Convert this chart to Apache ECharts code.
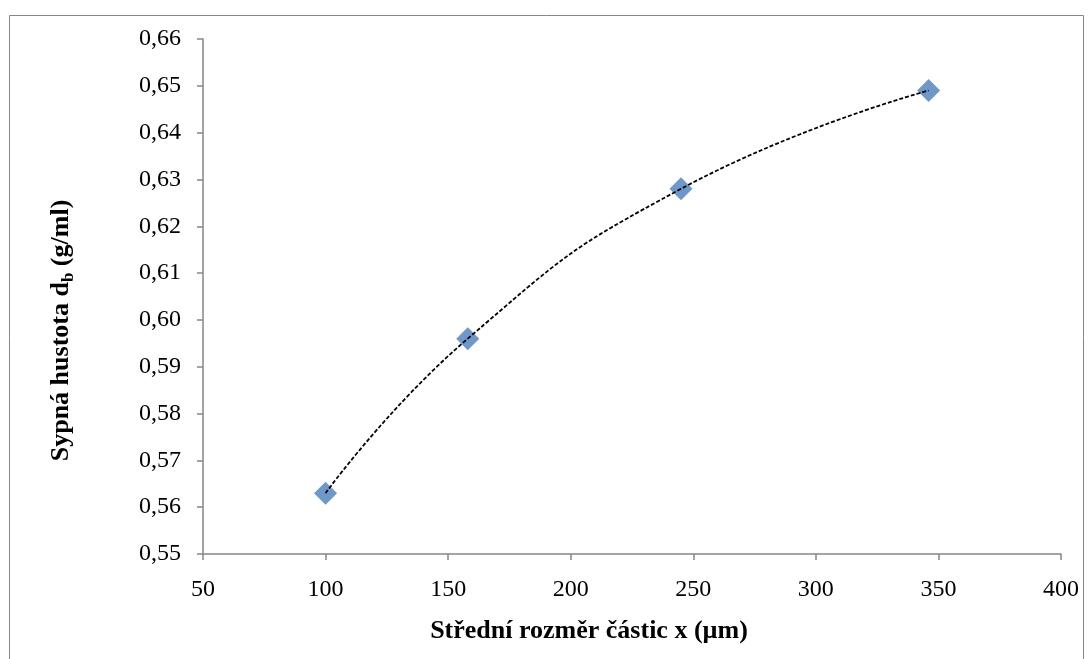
<!DOCTYPE html>
<html>
<head>
<meta charset="utf-8">
<script src="https://cdn.jsdelivr.net/npm/echarts@6/dist/echarts.min.js"></script>
<style>
  html, body { margin: 0; padding: 0; background: #fff; }
  #chart { width: 1089px; height: 659px; }
</style>
</head>
<body>
<div id="chart"></div>
<script>
// measured points (x in µm, bulk density in g/ml)
const particleSize = [100, 158, 245, 346];
const bulkDensity = [0.563, 0.596, 0.628, 0.649];

const points = particleSize.map((x, i) => [x, bulkDensity[i]]);

const chart = echarts.init(document.getElementById("chart"));
const font = "'Liberation Serif', 'Times New Roman', serif";
const axisGray = "#868686";

const option = {
  animation: false,
  backgroundColor: "#fff",
  graphic: [
    {
      type: "rect",
      left: 7,
      top: 13,
      shape: { width: 1074, height: 660 },
      style: { fill: "none", stroke: axisGray, lineWidth: 1 },
      silent: true,
    },
  ],
  grid: { left: 203, right: 28, top: 39, bottom: 105 },
  xAxis: {
    type: "value",
    min: 50,
    max: 400,
    interval: 50,
    name: "Střední rozměr částic x (µm)",
    nameLocation: "middle",
    nameGap: 64,
    nameTextStyle: {
      fontFamily: font,
      fontSize: 26,
      fontWeight: "bold",
      color: "#000",
      padding: [0, 86, 0, 0], // Excel puts the title a bit left of the axis middle
    },
    axisLine: { show: true, lineStyle: { color: axisGray, width: 1.5 } },
    axisTick: { show: true, length: 6, lineStyle: { color: axisGray, width: 1.5 } },
    axisLabel: { fontFamily: font, fontSize: 24, color: "#000", margin: 24 },
    splitLine: { show: false },
  },
  yAxis: {
    type: "value",
    min: 0.55,
    max: 0.66,
    interval: 0.01,
    name: "{n|Sypná hustota d}{s|b}{n| (g/ml)}",
    nameLocation: "middle",
    nameRotate: 90,
    nameGap: 126,
    nameTextStyle: {
      padding: [0, 68, 0, 0], // shifts the title below the axis middle
      rich: {
        n: { fontFamily: font, fontSize: 26, fontWeight: "bold", color: "#000" },
        s: { fontFamily: font, fontSize: 17, fontWeight: "bold", color: "#000", padding: [14, 0, 0, 0] },
      },
    },
    axisLine: { show: true, lineStyle: { color: axisGray, width: 1.5 } },
    axisTick: { show: true, length: 6, lineStyle: { color: axisGray, width: 1.5 } },
    axisLabel: {
      fontFamily: font,
      fontSize: 24,
      color: "#000",
      margin: 22,
      formatter: (v) => v.toFixed(2).replace(".", ","),
    },
    splitLine: { show: false },
  },
  series: [
    {
      // trendline
      type: "line",
      data: points,
      smooth: 0.5,
      showSymbol: false,
      lineStyle: { color: "#000", width: 1.8, type: [4, 2] },
      z: 3,
    },
    {
      type: "scatter",
      data: points,
      symbol: "diamond",
      symbolSize: 23,
      itemStyle: { color: "#4A7EBB" },
      z: 2,
    },
  ],
};
chart.setOption(option);
</script>
</body>
</html>
